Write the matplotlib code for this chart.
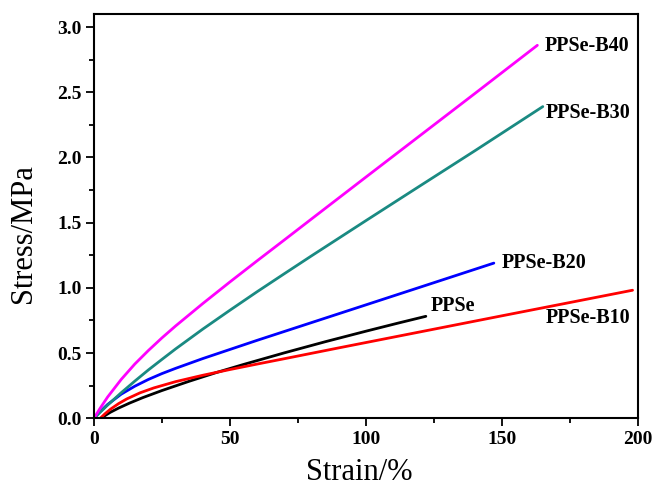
import matplotlib
matplotlib.use("Agg")
import matplotlib.pyplot as plt
from matplotlib.ticker import MultipleLocator

plt.rcParams['font.family'] = ['Liberation Serif', 'DejaVu Serif']

# strain (%) / stress (MPa)
ppse_x = [3, 4, 6, 9, 13, 18, 25, 35, 45, 55, 70, 85, 100, 112, 122]
ppse_y = [0, 0.02, 0.046, 0.078, 0.116, 0.159, 0.213, 0.284, 0.351, 0.413, 0.502, 0.587, 0.668, 0.731, 0.782]

b10_x = [2.3, 4, 6, 9, 12, 17, 22, 30, 40, 50, 60, 70, 90, 120, 150, 175, 198]
b10_y = [0, 0.034, 0.069, 0.112, 0.148, 0.196, 0.233, 0.281, 0.33, 0.374, 0.416, 0.457, 0.54, 0.663, 0.786, 0.888, 0.982]

b20_x = [0, 2, 5, 10, 15, 20, 25, 30, 40, 50, 60, 70, 80, 100, 120, 147]
b20_y = [0, 0.046, 0.106, 0.185, 0.246, 0.298, 0.343, 0.383, 0.458, 0.528, 0.598, 0.666, 0.734, 0.87, 1.006, 1.19]

b30_x = [0, 2, 5, 10, 15, 20, 25, 30, 40, 50, 60, 70, 80, 100, 120, 140, 165]
b30_y = [0, 0.041, 0.101, 0.196, 0.285, 0.371, 0.452, 0.532, 0.684, 0.829, 0.971, 1.109, 1.246, 1.516, 1.784, 2.051, 2.39]

b40_x = [0, 2, 5, 10, 15, 20, 25, 30, 40, 50, 60, 70, 80, 100, 120, 140, 163]
b40_y = [0, 0.069, 0.163, 0.298, 0.416, 0.52, 0.617, 0.708, 0.88, 1.046, 1.208, 1.368, 1.529, 1.85, 2.17, 2.49, 2.86]

series = [
    (ppse_x, ppse_y, 'black', 'PPSe', (431, 306)),
    (b10_x, b10_y, '#ff0000', 'PPSe-B10', (546, 318)),
    (b20_x, b20_y, '#0000ff', 'PPSe-B20', (502, 263)),
    (b30_x, b30_y, '#1a8a82', 'PPSe-B30', (546, 113)),
    (b40_x, b40_y, '#ff00ff', 'PPSe-B40', (545, 46)),
]

W, H = 654, 488
fig = plt.figure(figsize=(W / 100, H / 100), dpi=100)
ax = fig.add_axes([94 / W, (H - 418.3) / H, (638 - 94) / W, (418.3 - 14) / H])

for xs, ys, color, name, pos in series:
    ax.plot(xs, ys, color=color, linewidth=2.0, solid_capstyle='round')
    ax.text(pos[0] / W, 1 - pos[1] / H, name, transform=fig.transFigure,
            fontsize=14.5, fontweight='bold', ha='left', va='center')

ax.set_xlim(0, 200)
ax.set_ylim(0, 3.1)
ax.xaxis.set_major_locator(MultipleLocator(50))
ax.xaxis.set_minor_locator(MultipleLocator(25))
ax.yaxis.set_major_locator(MultipleLocator(0.5))
ax.yaxis.set_minor_locator(MultipleLocator(0.25))
ax.yaxis.set_major_formatter(plt.FormatStrFormatter('%.1f'))

ax.tick_params(which='major', direction='out', length=6, width=1.3, labelsize=14, pad=3)
ax.tick_params(which='minor', direction='out', length=3.5, width=1.3)
ax.tick_params(top=False, right=False, which='both')
for lab in ax.get_xticklabels() + ax.get_yticklabels():
    lab.set_fontweight('bold')
for sp in ax.spines.values():
    sp.set_linewidth(1.5)

ax.set_xlabel('Strain/%', fontsize=22)
ax.set_ylabel('Stress/MPa', fontsize=22)
ax.xaxis.set_label_coords(0.487, -0.133)
ax.yaxis.set_label_coords(-0.13, 0.458)
ax.xaxis.label.set_va('center')
ax.yaxis.label.set_va('center')

fig.savefig('out.png', dpi=100)
